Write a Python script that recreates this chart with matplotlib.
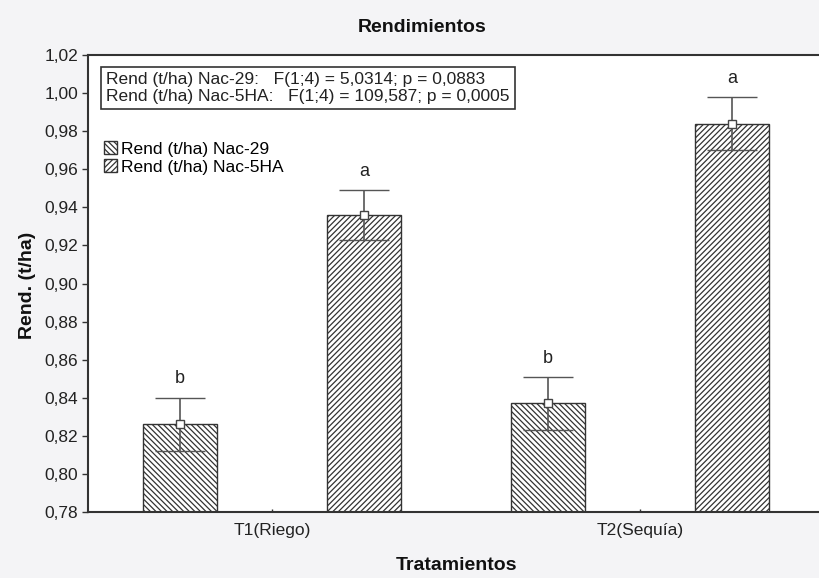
import numpy as np
import matplotlib.pyplot as plt

plt.rcParams['font.family'] = ['Liberation Sans', 'DejaVu Sans']
plt.rcParams['hatch.linewidth'] = 0.9
plt.rcParams['hatch.color'] = '#333333'

tratamientos = ['T1(Riego)', 'T2(Sequía)']
nac29 = [0.826, 0.837]
nac29_err = [0.014, 0.014]
nac5ha = [0.936, 0.984]
nac5ha_err = [0.013, 0.014]
letras29 = ['b', 'b']
letras5ha = ['a', 'a']
series = ['Rend (t/ha) Nac-29', 'Rend (t/ha) Nac-5HA']
stats = ['Rend (t/ha) Nac-29:   F(1;4) = 5,0314; p = 0,0883',
         'Rend (t/ha) Nac-5HA:   F(1;4) = 109,587; p = 0,0005']
yticks = np.arange(0.78, 1.021, 0.02)

bg = '#f4f4f6'
fig = plt.figure(figsize=(8.2, 5.78), dpi=100, facecolor=bg)
ax = fig.add_axes([88 / 820, 66 / 578, 736 / 820, 457 / 578])
ax.set_facecolor('white')

x = np.arange(len(tratamientos))
w = 0.2
off = 0.25
ax.bar(x - off, nac29, w, color='white', edgecolor='#333333', linewidth=1,
       hatch='\\' * 6, label=series[0])
ax.bar(x + off, nac5ha, w, color='white', edgecolor='#333333', linewidth=1,
       hatch='/' * 6, label=series[1])

for xs, m, e, lab in [(x - off, nac29, nac29_err, letras29), (x + off, nac5ha, nac5ha_err, letras5ha)]:
    ax.errorbar(xs, m, yerr=e, fmt='s', ms=5.5, mfc='white', mec='#444444', mew=1,
                ecolor='#555555', elinewidth=1.2, capsize=18, capthick=1.2, zorder=3)
    for xi, mi, ei, l in zip(xs, m, e, lab):
        ax.text(xi, mi + ei + 0.0075, l, ha='center', va='baseline', fontsize=13, color='#222222')

ax.set_xlim(-0.5, 1.5)
ax.set_ylim(0.78, 1.02)
ax.set_yticks(yticks)
ax.set_yticklabels([f'{v:.2f}'.replace('.', ',') for v in yticks], fontsize=12.5, color='#222222')
ax.set_xticks(x)
ax.set_xticklabels(tratamientos, fontsize=12.5, color='#222222')
ax.tick_params(axis='y', direction='out', length=4, width=1, color='#333333', pad=3)
ax.tick_params(axis='x', direction='in', length=2, width=1, color='#333333', pad=8)
for s in ['left', 'bottom', 'top']:
    ax.spines[s].set_color('#333333')
    ax.spines[s].set_linewidth(1.5)
ax.spines['right'].set_visible(False)

ax.text(0.0245, 0.962, '\n'.join(stats), transform=ax.transAxes, ha='left', va='top',
        fontsize=12.5, color='#222222', linespacing=1.15,
        bbox=dict(boxstyle='square,pad=0.3', facecolor='white', edgecolor='#333333', linewidth=1.2))

ax.legend(loc='upper left', bbox_to_anchor=(0.012, 0.826), frameon=False, fontsize=12.5,
          handlelength=0.75, handleheight=0.75, handletextpad=0.25, labelspacing=0.15,
          borderaxespad=0)

fig.text(422 / 820, 1 - 28 / 578, 'Rendimientos', ha='center', va='center',
         fontsize=14, fontweight='bold', color='#111111')
fig.text(457 / 820, 1 - 565 / 578, 'Tratamientos', ha='center', va='center',
         fontsize=14, fontweight='bold', color='#111111')
fig.text(28 / 820, 1 - 285 / 578, 'Rend. (t/ha)', ha='center', va='center', rotation=90,
         fontsize=14, fontweight='bold', color='#111111')

fig.savefig('out.png', dpi=100, facecolor=bg)
